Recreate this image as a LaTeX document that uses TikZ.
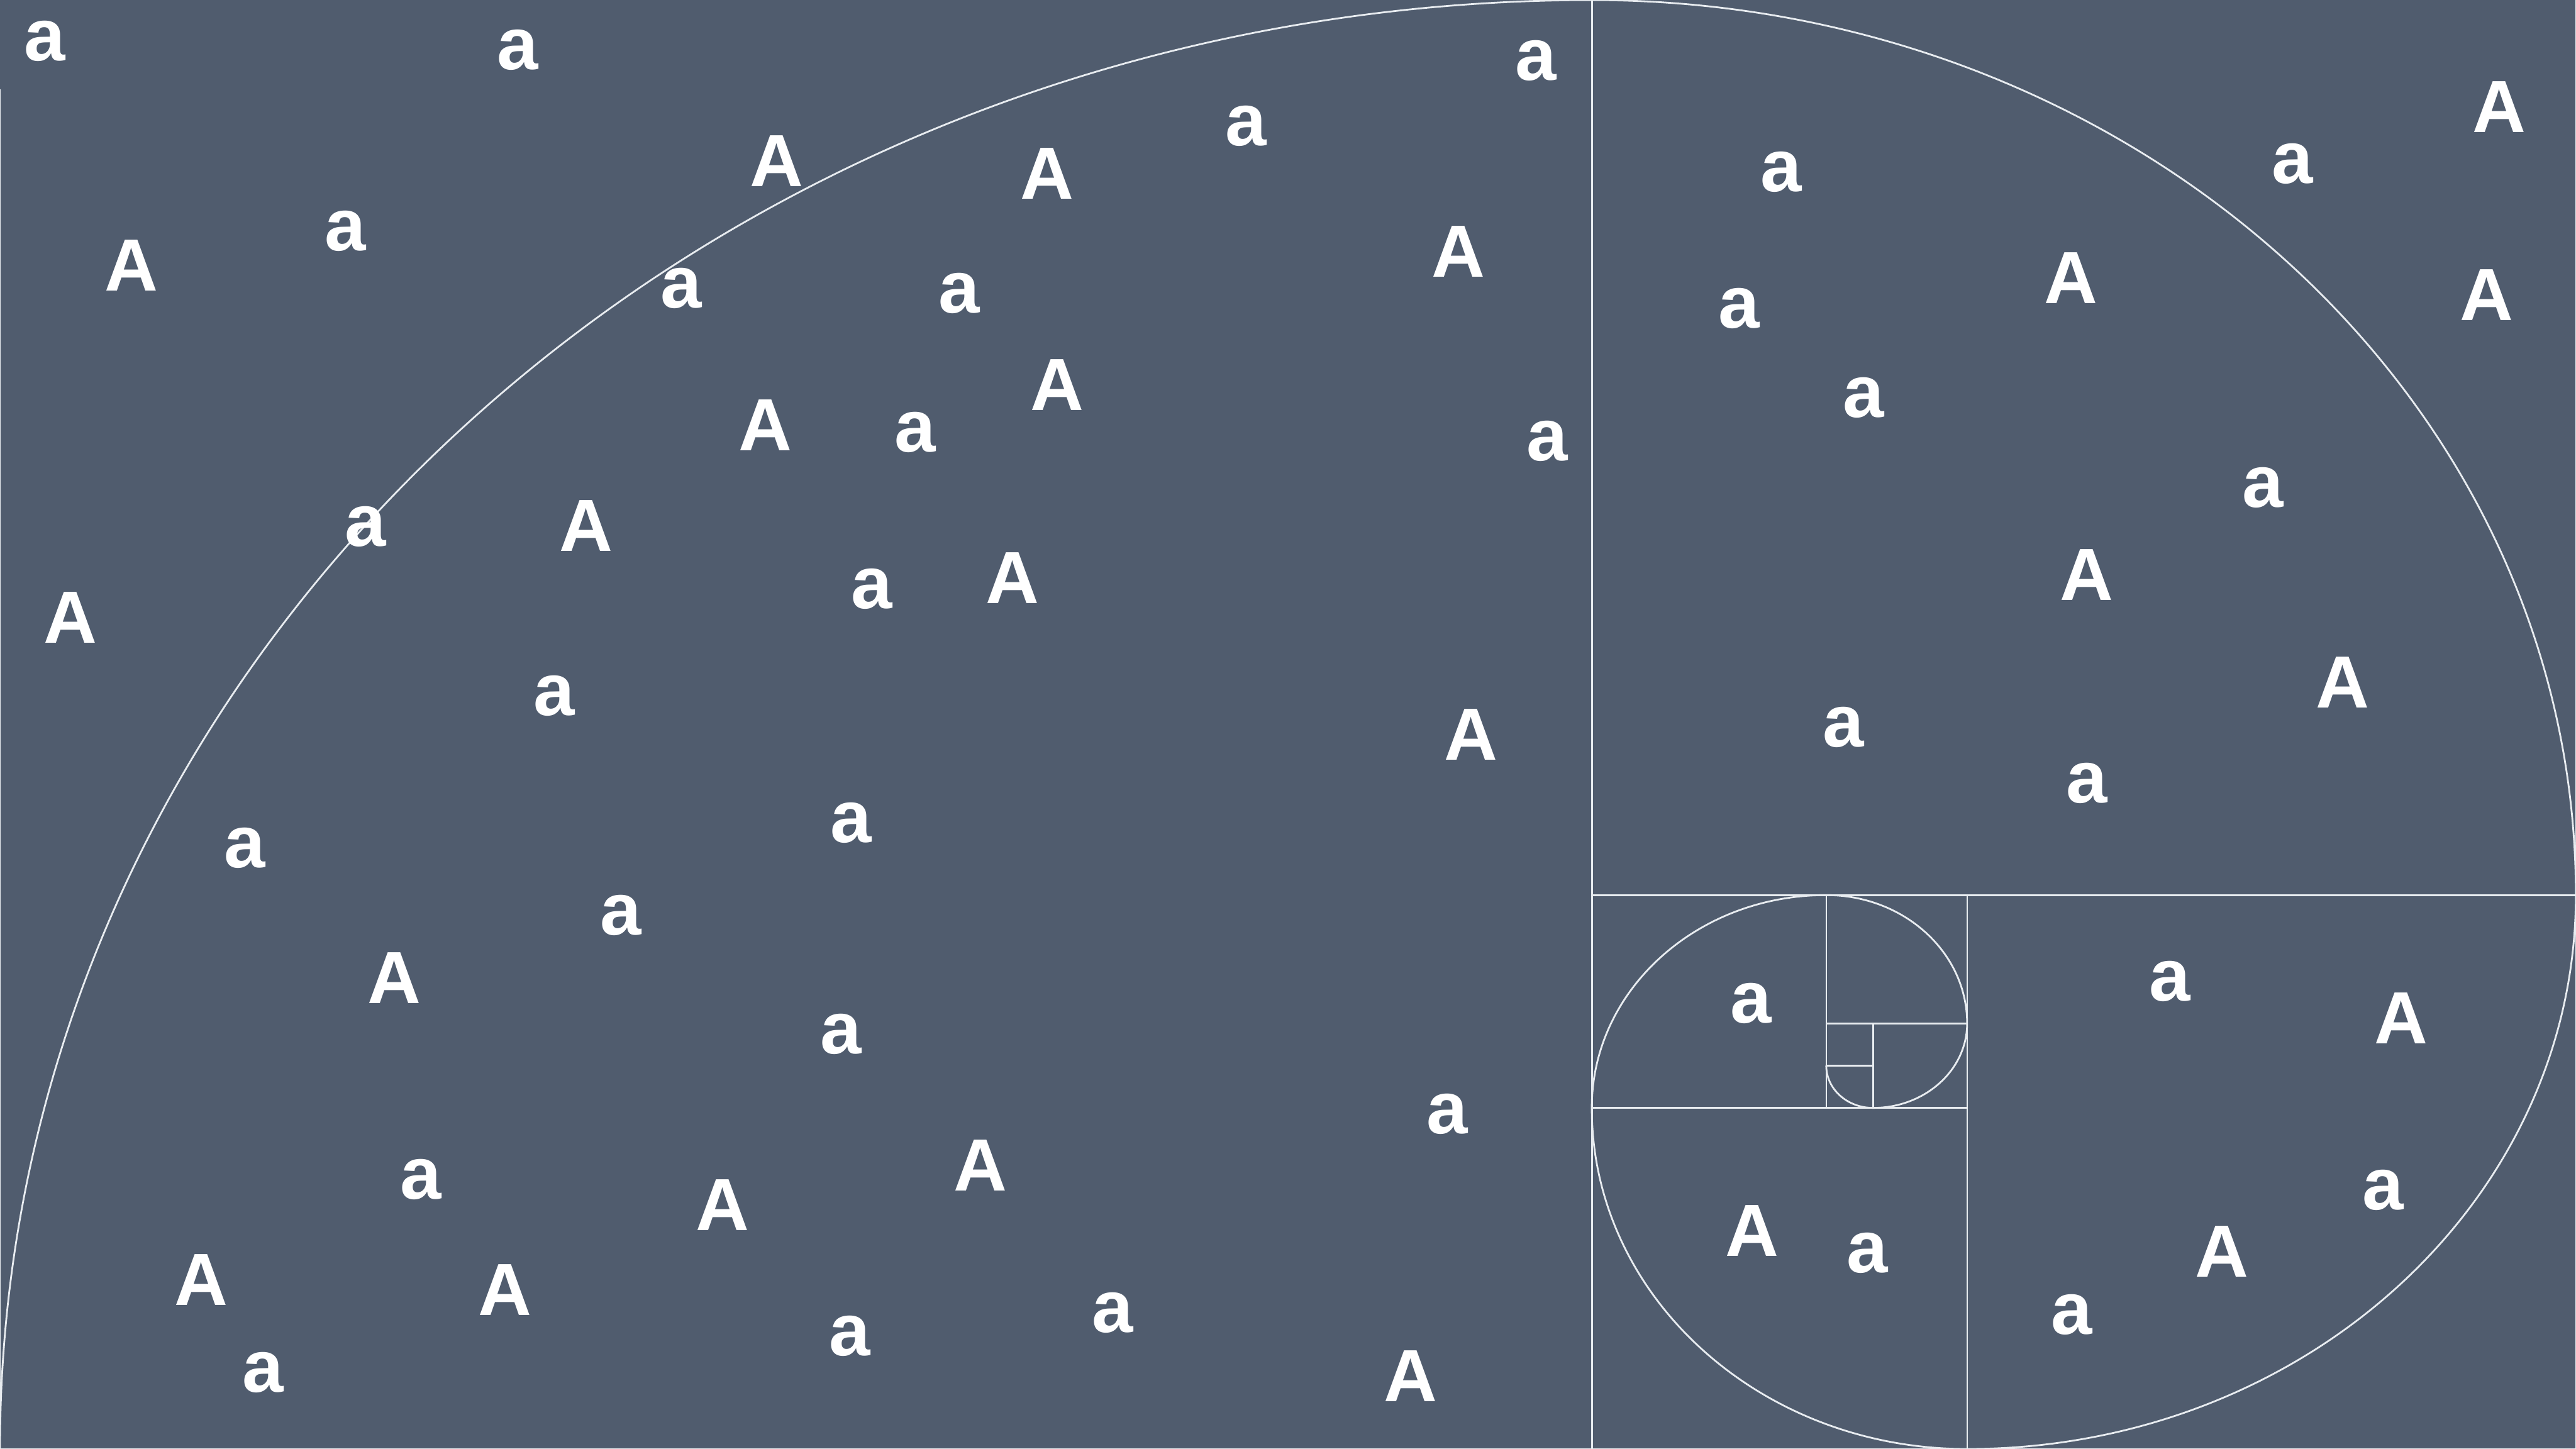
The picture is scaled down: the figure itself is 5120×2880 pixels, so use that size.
\documentclass[tikz,border=0pt]{standalone}
\usepackage{fontspec}
\setmainfont{Liberation Sans}
\definecolor{bgc}{RGB}{80,92,110}
\definecolor{linec}{RGB}{232,236,240}
\begin{document}
\begin{tikzpicture}[x=0.1pt,y=-0.1pt,
  lt/.style={text=white,font=\fontsize{14.7pt}{17pt}\selectfont\bfseries,inner sep=0pt,anchor=center},
  gline/.style={draw=linec,line width=0.35pt}]
\fill[bgc] (0,0) rectangle (5120,2880);
\useasboundingbox (0,0) rectangle (5120,2880);
% frame and squares
\draw[gline] (0,177) -- (0,2880) -- (5120,2880) -- (5120,0);
\draw[gline] (3164,0) -- (3164,2880);
\draw[gline] (3164,1779) -- (5120,1779);
\draw[gline] (3910,1779) -- (3910,2880);
\draw[gline] (3164,2202) -- (3910,2202);
\draw[gline] (3630,1779) -- (3630,2202);
\draw[gline] (3630,2034) -- (3910,2034);
\draw[gline] (3723,2034) -- (3723,2202);
\draw[gline] (3630,2118) -- (3723,2118);
% spiral
\draw[gline] (0,2880)
  arc[start angle=180,end angle=90,x radius=316.4pt,y radius=288pt]
  arc[start angle=90,end angle=0,x radius=195.6pt,y radius=177.9pt]
  arc[start angle=0,end angle=-90,x radius=121pt,y radius=110.1pt]
  arc[start angle=-90,end angle=-180,x radius=74.6pt,y radius=67.8pt]
  arc[start angle=180,end angle=90,x radius=46.6pt,y radius=42.3pt]
  arc[start angle=90,end angle=0,x radius=28pt,y radius=25.5pt]
  arc[start angle=0,end angle=-90,x radius=18.7pt,y radius=16.8pt]
  arc[start angle=-90,end angle=-180,x radius=9.3pt,y radius=8.4pt];
% letters, left square
\node[lt] (l1) at (89,82) {a};
\node[lt] (l2) at (1029,99) {a};
\node[lt] (l3) at (3053,121) {a};
\node[lt] (l4) at (2476,250) {a};
\node[lt] (l5) at (1544,320) {A};
\node[lt] (l6) at (2081,345) {A};
\node[lt] (l7) at (686,459) {a};
\node[lt] (l8) at (261,528) {A};
\node[lt] (l9) at (2899,500) {A};
\node[lt] (l10) at (1354,573) {a};
\node[lt] (l11) at (1906,583) {a};
\node[lt] (l12) at (2101,765) {A};
\node[lt] (l13) at (1521,845) {A};
\node[lt] (l14) at (1819,859) {a};
\node[lt] (l15) at (3075,877) {a};
\node[lt] (l16) at (726,1047) {a};
\node[lt] (l17) at (1165,1045) {A};
\node[lt] (l18) at (140,1228) {A};
\node[lt] (l19) at (1733,1171) {a};
\node[lt] (l20) at (2013,1149) {A};
\node[lt] (l21) at (1101,1383) {a};
\node[lt] (l22) at (2924,1460) {A};
\node[lt] (l23) at (486,1686) {a};
\node[lt] (l24) at (1692,1635) {a};
\node[lt] (l25) at (1234,1819) {a};
\node[lt] (l26) at (784,1944) {A};
\node[lt] (l27) at (1672,2056) {a};
\node[lt] (l28) at (2876,2214) {a};
\node[lt] (l29) at (1949,2316) {A};
\node[lt] (l30) at (837,2344) {a};
\node[lt] (l31) at (1436,2395) {A};
\node[lt] (l32) at (400,2544) {A};
\node[lt] (l33) at (1004,2564) {A};
\node[lt] (l34) at (523,2728) {a};
\node[lt] (l35) at (1689,2656) {a};
\node[lt] (l36) at (2212,2609) {a};
\node[lt] (l37) at (2804,2735) {A};
% letters, right part
\node[lt] (r1) at (3540,342) {a};
\node[lt] (r2) at (4557,326) {a};
\node[lt] (r3) at (4968,212) {A};
\node[lt] (r4) at (4116,552) {A};
\node[lt] (r5) at (4943,586) {A};
\node[lt] (r6) at (3456,613) {a};
\node[lt] (r7) at (3704,790) {a};
\node[lt] (r8) at (4498,969) {a};
\node[lt] (r9) at (4147,1143) {A};
\node[lt] (r10) at (4656,1356) {A};
\node[lt] (r11) at (3664,1446) {a};
\node[lt] (r12) at (4148,1557) {a};
\node[lt] (r13) at (4313,1951) {a};
\node[lt] (r14) at (4772,2024) {A};
\node[lt] (r15) at (3480,1994) {a};
\node[lt] (r16) at (4737,2366) {a};
\node[lt] (r17) at (4416,2488) {A};
\node[lt] (r18) at (4118,2613) {a};
\node[lt] (r19) at (3482,2446) {A};
\node[lt] (r20) at (3712,2490) {a};
\end{tikzpicture}
\end{document}
